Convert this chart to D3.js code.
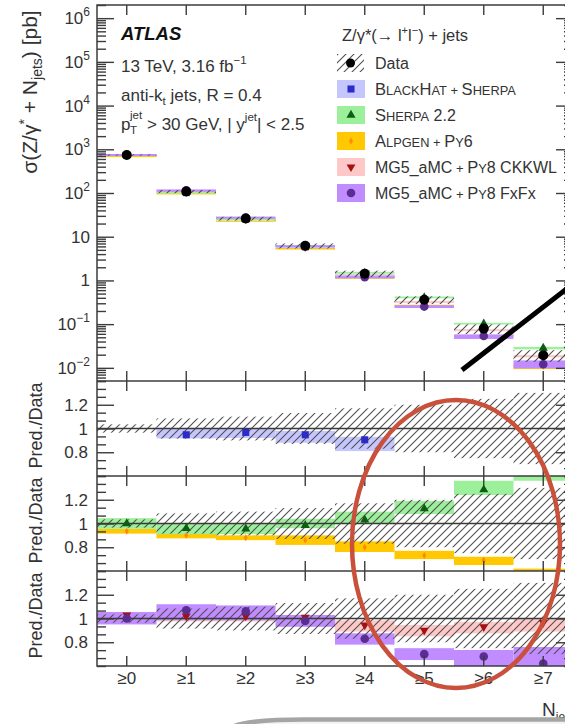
<!DOCTYPE html>
<html><head><meta charset="utf-8">
<script src="https://cdn.jsdelivr.net/npm/d3@7"></script>
<style>
html,body{margin:0;padding:0;background:#fff;overflow:hidden;}
svg{display:block;font-family:"Liberation Sans",Arial,Helvetica,sans-serif;}
</style></head><body>
<svg id="chart" width="565" height="724"></svg>
<script>
// Inclusive jet multiplicity bins
const categories = ["≥0","≥1","≥2","≥3","≥4","≥5","≥6","≥7"];

// Measured cross sections [pb] and relative total uncertainty
const dataXsec   = [740, 108, 26, 6.2, 1.43, 0.36, 0.079, 0.0195];
const dataRelErr = [0.035, 0.085, 0.10, 0.13, 0.17, 0.20, 0.25, 0.30];

// Prediction / data ratios with uncertainty band edges
const blackhatRatio = [null, 0.947, 0.967, 0.947, 0.905, null, null, null];
const blackhatLow   = [null, 0.917, 0.920, 0.880, 0.810, null, null, null];
const blackhatHigh  = [null, 0.995, 0.995, 0.980, 0.930, null, null, null];

const sherpaRatio = [1.00, 0.96, 0.955, 0.985, 1.03, 1.125, 1.285, 1.45];
const sherpaLow   = [0.955, 0.91, 0.91, 0.96, 1.00, 1.08, 1.24, 1.36];
const sherpaHigh  = [1.045, 1.00, 1.00, 1.04, 1.10, 1.19, 1.36, 1.55];

const alpgenRatio = [0.935, 0.90, 0.88, 0.86, 0.80, 0.73, 0.69, 0.55];
const alpgenLow   = [0.915, 0.875, 0.86, 0.82, 0.76, 0.70, 0.65, 0.48];
const alpgenHigh  = [0.955, 0.915, 0.90, 0.90, 0.85, 0.77, 0.72, 0.62];

const ckkwlRatio = [1.03, 1.02, 1.02, 1.01, 0.945, 0.90, 0.93, 0.965];
const ckkwlLow   = [1.00, 0.975, 0.975, 0.98, 0.89, 0.85, 0.875, 0.89];
const ckkwlHigh  = [1.05, 1.05, 1.05, 1.03, 0.985, 0.945, 0.97, 1.00];

const fxfxRatio = [1.00, 1.07, 1.06, 0.98, 0.83, 0.70, 0.68, 0.62];
const fxfxLow   = [0.95, 0.985, 0.985, 0.93, 0.78, 0.65, 0.58, 0.50];
const fxfxHigh  = [1.055, 1.12, 1.11, 1.03, 0.875, 0.75, 0.735, 0.76];

// Axis tick labels
const topTickValues = [1e-2, 1e-1, 1, 10, 1e2, 1e3, 1e4, 1e5, 1e6];
const topTickBase   = ["10", "10", "1", "10", "10", "10", "10", "10", "10"];
const topTickExp    = ["-2", "-1", "", "", "2", "3", "4", "5", "6"];
const ratioTickValues = [0.8, 1, 1.2];
const ratioTickLabels = ["0.8", "1", "1.2"];

const svg = d3.select("#chart");
const frameL = 97, frameR = 573, frameTop = 5;
const mainBottom = 381;
const panels = [
  {top: 381, bottom: 476},
  {top: 476, bottom: 571},
  {top: 571, bottom: 666}
];
const ink = "#333";

const x = d3.scaleBand().domain(categories).range([frameL, frameR]);
const xc = c => x(c) + x.bandwidth() / 2;
const yTop = d3.scaleLog().domain([0.005, 2e6]).range([mainBottom, frameTop]);

// ---- definitions: hatch pattern and clip regions
const defs = svg.append("defs");
const pat = defs.append("pattern").attr("id", "hatch")
  .attr("patternUnits", "userSpaceOnUse").attr("width", 8).attr("height", 8);
pat.append("path").attr("d", "M-1,1 l2,-2 M0,8 l8,-8 M7,9 l2,-2")
  .attr("stroke", "#505050").attr("stroke-width", 1.1).attr("fill", "none");

function addClip(id, y0, y1) {
  defs.append("clipPath").attr("id", id).append("rect")
    .attr("x", frameL).attr("y", y0).attr("width", frameR - frameL).attr("height", y1 - y0);
}
addClip("clipMain", frameTop, mainBottom);
panels.forEach((p, i) => addClip("clipR" + i, p.top, p.bottom));

// ---- model styles
const models = {
  blackhat: {ratio: blackhatRatio, lo: blackhatLow, hi: blackhatHigh, band: "#c6c6ff", mark: "#2b2bc8", sym: d3.symbolSquare, size: 50, rot: 0},
  sherpa:   {ratio: sherpaRatio,   lo: sherpaLow,   hi: sherpaHigh,   band: "#9cf09c", mark: "#0d5e12", sym: d3.symbolTriangle, size: 36, rot: 0},
  alpgen:   {ratio: alpgenRatio,   lo: alpgenLow,   hi: alpgenHigh,   band: "#ffc800", mark: "#ff8a00", sym: d3.symbolDiamond, size: 14, rot: 0},
  ckkwl:    {ratio: ckkwlRatio,    lo: ckkwlLow,    hi: ckkwlHigh,    band: "#ffc8c8", mark: "#a31212", sym: d3.symbolTriangle, size: 34, rot: 180},
  fxfx:     {ratio: fxfxRatio,     lo: fxfxLow,     hi: fxfxHigh,     band: "#c08cff", mark: "#5a2d91", sym: d3.symbolCircle, size: 58, rot: 0}
};
const topOrder = ["alpgen", "ckkwl", "blackhat", "sherpa", "fxfx"];

function drawMarker(g, m, px, py) {
  g.append("path").attr("d", d3.symbol().type(m.sym).size(m.size)())
    .attr("transform", `translate(${px},${py}) rotate(${m.rot})`)
    .attr("fill", m.mark);
}

// ---- main panel
const gMain = svg.append("g").attr("clip-path", "url(#clipMain)");
topOrder.forEach(k => {
  const m = models[k];
  categories.forEach((c, i) => {
    if (m.ratio[i] == null) return;
    const y0 = yTop(dataXsec[i] * m.hi[i]), y1 = yTop(dataXsec[i] * m.lo[i]);
    gMain.append("rect").attr("x", x(c)).attr("width", x.bandwidth())
      .attr("y", y0).attr("height", Math.max(1.2, y1 - y0)).attr("fill", m.band);
  });
});
categories.forEach((c, i) => {
  const y0 = yTop(dataXsec[i] * (1 + dataRelErr[i])), y1 = yTop(dataXsec[i] * (1 - dataRelErr[i]));
  gMain.append("rect").attr("x", x(c)).attr("width", x.bandwidth())
    .attr("y", y0).attr("height", y1 - y0).attr("fill", "url(#hatch)");
});
topOrder.forEach(k => {
  const m = models[k];
  categories.forEach((c, i) => {
    if (m.ratio[i] == null) return;
    drawMarker(gMain, m, xc(c), yTop(dataXsec[i] * m.ratio[i]));
  });
});
categories.forEach((c, i) => {
  gMain.append("circle").attr("cx", xc(c)).attr("cy", yTop(dataXsec[i])).attr("r", 5).attr("fill", "#000");
});

// ---- ratio panels
const ratioSets = [["blackhat"], ["alpgen", "sherpa"], ["ckkwl", "fxfx"]];
const yRatio = panels.map(p => d3.scaleLinear().domain([0.6, 1.4]).range([p.bottom, p.top]));

panels.forEach((p, pi) => {
  const yR = yRatio[pi];
  const g = svg.append("g").attr("clip-path", `url(#clipR${pi})`);
  ratioSets[pi].forEach(k => {
    const m = models[k];
    categories.forEach((c, i) => {
      if (m.ratio[i] == null) return;
      g.append("rect").attr("x", x(c)).attr("width", x.bandwidth())
        .attr("y", yR(m.hi[i])).attr("height", yR(m.lo[i]) - yR(m.hi[i])).attr("fill", m.band);
    });
  });
  categories.forEach((c, i) => {
    g.append("rect").attr("x", x(c)).attr("width", x.bandwidth())
      .attr("y", yR(1 + dataRelErr[i])).attr("height", yR(1 - dataRelErr[i]) - yR(1 + dataRelErr[i]))
      .attr("fill", "url(#hatch)");
  });
  g.append("line").attr("x1", frameL).attr("x2", frameR).attr("y1", yR(1)).attr("y2", yR(1))
    .attr("stroke", "#3a3a3a").attr("stroke-width", 1.5);
  ratioSets[pi].forEach(k => {
    const m = models[k];
    categories.forEach((c, i) => {
      if (m.ratio[i] == null) return;
      drawMarker(g, m, xc(c), yR(m.ratio[i]));
    });
  });
});

// ---- axes (ticks pointing into the frame on all sides)
function styleAxis(sel) {
  sel.select(".domain").remove();
  sel.selectAll(".tick line").attr("stroke", "#3c3c3c").attr("stroke-width", 1.4);
  sel.selectAll(".tick text").remove();
}

// log-scale y ticks of the main panel
const minorTop = [];
for (let e = -3; e <= 6; e++) for (let k = 2; k <= 9; k++) {
  const v = k * Math.pow(10, e);
  if (v >= 0.005 && v <= 2e6) minorTop.push(v);
}
[[d3.axisRight, frameL], [d3.axisLeft, frameR]].forEach(([ax, pos]) => {
  svg.append("g").attr("transform", `translate(${pos},0)`)
    .call(ax(yTop).tickValues(topTickValues).tickSize(17).tickSizeOuter(0)).call(styleAxis);
  svg.append("g").attr("transform", `translate(${pos},0)`)
    .call(ax(yTop).tickValues(minorTop).tickSize(9).tickSizeOuter(0)).call(styleAxis);
});

// linear y ticks of the ratio panels
const ratioMinor = d3.range(-6, 7).map(k => 1 + k * 0.2 / 3).filter(v => Math.abs(v - 0.8) > 1e-6 && Math.abs(v - 1) > 1e-6 && Math.abs(v - 1.2) > 1e-6);
yRatio.forEach(yR => {
  [[d3.axisRight, frameL], [d3.axisLeft, frameR]].forEach(([ax, pos]) => {
    svg.append("g").attr("transform", `translate(${pos},0)`)
      .call(ax(yR).tickValues(ratioTickValues).tickSize(17).tickSizeOuter(0)).call(styleAxis);
    svg.append("g").attr("transform", `translate(${pos},0)`)
      .call(ax(yR).tickValues(ratioMinor).tickSize(9).tickSizeOuter(0)).call(styleAxis);
  });
});

// x ticks at the top and bottom of every panel
const xEdges = [[frameTop, mainBottom]].concat(panels.map(p => [p.top, p.bottom]));
xEdges.forEach(([t, b]) => {
  svg.append("g").attr("transform", `translate(0,${t})`)
    .call(d3.axisBottom(x).tickSize(10).tickSizeOuter(0)).call(styleAxis);
  svg.append("g").attr("transform", `translate(0,${b})`)
    .call(d3.axisTop(x).tickSize(10).tickSizeOuter(0)).call(styleAxis);
});

// frame
const frame = svg.append("g").attr("stroke", "#3c3c3c").attr("stroke-width", 1.5).attr("fill", "none");
frame.append("rect").attr("x", frameL).attr("y", frameTop).attr("width", frameR - frameL).attr("height", panels[2].bottom - frameTop);
[mainBottom, panels[1].top, panels[2].top].forEach(yy =>
  frame.append("line").attr("x1", frameL).attr("x2", frameR).attr("y1", yy).attr("y2", yy));

// ---- tick labels
const labels = svg.append("g").attr("fill", ink).attr("font-size", 17);
topTickValues.forEach((v, i) => {
  const t = labels.append("text").attr("x", 90).attr("y", yTop(v) + 6).attr("text-anchor", "end");
  t.append("tspan").text(topTickBase[i]);
  if (topTickExp[i]) t.append("tspan").attr("font-size", 12).attr("dy", -8).text(topTickExp[i].replace("-", "−"));
});
yRatio.forEach(yR => {
  ratioTickValues.forEach((v, i) => {
    labels.append("text").attr("x", 88).attr("y", yR(v) + 6).attr("text-anchor", "end").text(ratioTickLabels[i]);
  });
});
categories.forEach(c => {
  labels.append("text").attr("x", xc(c)).attr("y", 684).attr("text-anchor", "middle").text(c);
});

// ---- axis titles
const yTitle = svg.append("text").attr("transform", "translate(37,92) rotate(-90)")
  .attr("text-anchor", "middle").attr("font-size", 21).attr("fill", ink);
yTitle.append("tspan").text("σ(Z/γ");
yTitle.append("tspan").attr("font-size", 14).attr("dy", -8).text("*");
yTitle.append("tspan").attr("dy", 8).text(" + N");
yTitle.append("tspan").attr("font-size", 14).attr("dy", 5).text("jets");
yTitle.append("tspan").attr("dy", -5).text(") [pb]");

panels.forEach(p => {
  svg.append("text").attr("transform", `translate(42,${(p.top + p.bottom) / 2 - 3}) rotate(-90)`)
    .attr("text-anchor", "middle").attr("font-size", 18).attr("fill", ink).text("Pred./Data");
});

const xTitle = svg.append("text").attr("x", 542).attr("y", 716).attr("font-size", 19).attr("fill", ink);
xTitle.append("tspan").text("N");
xTitle.append("tspan").attr("font-size", 12).attr("dy", 5).text("jets");

// ---- ATLAS label block
const info = svg.append("g").attr("fill", ink);
info.append("text").attr("x", 121).attr("y", 40).attr("font-size", 18.5)
  .attr("font-weight", "bold").attr("font-style", "italic").attr("fill", "#111").text("ATLAS");
const l2 = info.append("text").attr("x", 121).attr("y", 72).attr("font-size", 17);
l2.append("tspan").text("13 TeV, 3.16 fb");
l2.append("tspan").attr("font-size", 11.5).attr("dy", -8).text("−1");
const l3 = info.append("text").attr("x", 121).attr("y", 101).attr("font-size", 17);
l3.append("tspan").text("anti-k");
l3.append("tspan").attr("font-size", 11.5).attr("dy", 4).text("t");
l3.append("tspan").attr("dy", -4).text(" jets, R = 0.4");
info.append("text").attr("x", 121).attr("y", 130).attr("font-size", 17).text("p");
info.append("text").attr("x", 130).attr("y", 119).attr("font-size", 11.5).text("jet");
info.append("text").attr("x", 130).attr("y", 134).attr("font-size", 11.5).text("T");
const l4 = info.append("text").attr("x", 147).attr("y", 130).attr("font-size", 17);
l4.append("tspan").text("> 30 GeV, | y");
l4.append("tspan").attr("font-size", 11.5).attr("dy", -9).text("jet");
l4.append("tspan").attr("dy", 9).text("| < 2.5");

// ---- legend
const leg = svg.append("g").attr("fill", ink);
const lt = leg.append("text").attr("x", 342).attr("y", 41).attr("font-size", 16.5);
lt.append("tspan").text("Z/γ*(→ l");
lt.append("tspan").attr("font-size", 11).attr("dy", -7).text("+");
lt.append("tspan").attr("dy", 7).text("l");
lt.append("tspan").attr("font-size", 11).attr("dy", -7).text("−");
lt.append("tspan").attr("dy", 7).text(") + jets");

const legendKeys = ["data", "blackhat", "sherpa", "alpgen", "ckkwl", "fxfx"];
const legendLabels = [
  [["Data", 16]],
  [["B", 16.5], ["LACK", 12.8], ["H", 16.5], ["AT", 12.8], [" + ", 13], ["S", 16.5], ["HERPA", 12.8]],
  [["S", 16.5], ["HERPA", 12.8], [" 2.2", 16]],
  [["A", 16.5], ["LPGEN", 12.8], [" + ", 13], ["P", 16.5], ["Y", 12.8], ["6", 16]],
  [["MG5_aMC", 16], [" + ", 13], ["P", 16.5], ["Y", 12.8], ["8 CKKWL", 16]],
  [["MG5_aMC", 16], [" + ", 13], ["P", 16.5], ["Y", 12.8], ["8 FxFx", 16]]
];
legendKeys.forEach((k, i) => {
  const cy = 63 + i * 26;
  if (k === "data") {
    leg.append("rect").attr("x", 337).attr("y", cy - 9).attr("width", 27).attr("height", 18).attr("fill", "url(#hatch)");
    leg.append("circle").attr("cx", 350.5).attr("cy", cy).attr("r", 4.5).attr("fill", "#000");
  } else {
    const m = models[k];
    leg.append("rect").attr("x", 337).attr("y", cy - 9).attr("width", 28).attr("height", 18).attr("fill", m.band);
    drawMarker(leg, m, 351, cy);
  }
  const t = leg.append("text").attr("x", 375).attr("y", cy + 6);
  legendLabels[i].forEach(([s, fs]) => t.append("tspan").attr("font-size", fs).text(s));
});

// ---- annotations
svg.append("ellipse").attr("cx", 456).attr("cy", 544).attr("rx", 104).attr("ry", 144)
  .attr("fill", "none").attr("stroke", "#c9503a").attr("stroke-width", 4.5);
svg.append("line").attr("x1", 462).attr("y1", 370).attr("x2", 600).attr("y2", 263)
  .attr("stroke", "#000").attr("stroke-width", 5);
svg.append("path").attr("d", "M214,740 C226,724 248,719.5 305,719.5 L580,719.5 L580,740 Z")
  .attr("fill", "#f3f3f3").attr("stroke", "#a4a6a4").attr("stroke-width", 4.5);
</script>
</body></html>
